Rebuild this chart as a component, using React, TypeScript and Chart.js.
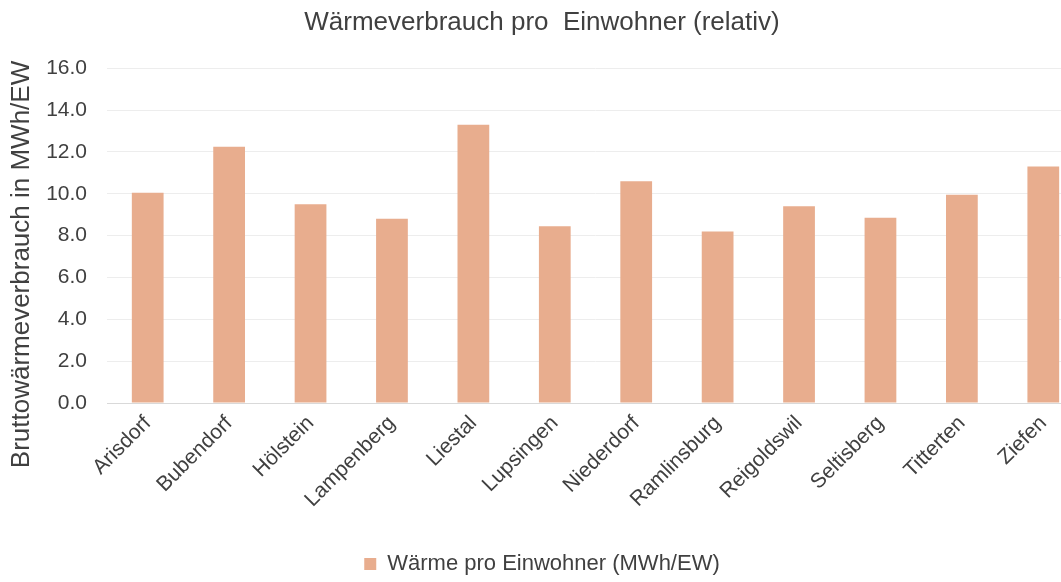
import React, { useEffect, useRef } from "react";
import { Chart, registerables } from "chart.js";

Chart.register(...registerables);

const chartTitle = "Wärmeverbrauch pro  Einwohner (relativ)";
const yAxisTitle = "Bruttowärmeverbrauch in MWh/EW";
const seriesLabel = "Wärme pro Einwohner (MWh/EW)";
const categories = [
  "Arisdorf",
  "Bubendorf",
  "Hölstein",
  "Lampenberg",
  "Liestal",
  "Lupsingen",
  "Niederdorf",
  "Ramlinsburg",
  "Reigoldswil",
  "Seltisberg",
  "Titterten",
  "Ziefen",
];
const values = [10.05, 12.25, 9.5, 8.8, 13.3, 8.45, 10.6, 8.2, 9.4, 8.85, 9.95, 11.3];
const yMin = 0;
const yMax = 16;
const yStep = 2;

const FONT = "'Liberation Sans', Arial, Helvetica, sans-serif";
const TEXT = "#404040";
const BAR = "#E8AD8E";
const W = 1084;
const H = 582;

export default function App() {
  const ref = useRef<HTMLCanvasElement | null>(null);

  useEffect(() => {
    if (!ref.current) return;
    const chart = new Chart(ref.current, {
      type: "bar",
      data: {
        labels: categories,
        datasets: [
          {
            label: seriesLabel,
            data: values,
            backgroundColor: BAR,
            borderWidth: 0,
            barPercentage: 0.78,
            categoryPercentage: 0.5,
          },
        ],
      },
      options: {
        responsive: false,
        animation: false,
        layout: { padding: { left: 0, right: 0, top: 0, bottom: -3 } },
        plugins: {
          title: {
            display: true,
            text: chartTitle,
            color: TEXT,
            font: { family: FONT, size: 26, weight: "normal" },
            padding: { top: 7, bottom: 30 },
          },
          legend: {
            display: true,
            position: "bottom",
            labels: {
              color: TEXT,
              font: { family: FONT, size: 22 },
              boxWidth: 12,
              boxHeight: 12,
              padding: 7,
            },
          },
          tooltip: { enabled: false },
        },
        scales: {
          x: {
            grid: { display: false, drawTicks: false },
            border: { display: true, color: "#d9d9d9", width: 1 },
            ticks: {
              color: TEXT,
              font: { family: FONT, size: 21 },
              maxRotation: 45,
              minRotation: 45,
              padding: 8,
              autoSkip: false,
            },
            afterFit: (scale: any) => {
              scale.height = 143;
            },
          },
          y: {
            min: yMin,
            max: yMax,
            grid: { color: "#ededed", drawTicks: false },
            border: { display: false },
            ticks: {
              stepSize: yStep,
              color: TEXT,
              font: { family: FONT, size: 21 },
              padding: 20,
              callback: (v: any) => Number(v).toFixed(1),
            },
            title: {
              display: true,
              text: yAxisTitle + "        ",
              color: TEXT,
              font: { family: FONT, size: 26 },
              padding: { top: 6, bottom: 0 },
            },
            afterFit: (scale: any) => {
              scale.width = 107;
            },
          },
        },
      },
    });
    return () => chart.destroy();
  }, []);

  return (
    <div style={{ position: "fixed", left: 0, top: 0, width: W, height: H, background: "#fff" }}>
      <canvas ref={ref} width={W} height={H} style={{ display: "block" }} />
    </div>
  );
}
